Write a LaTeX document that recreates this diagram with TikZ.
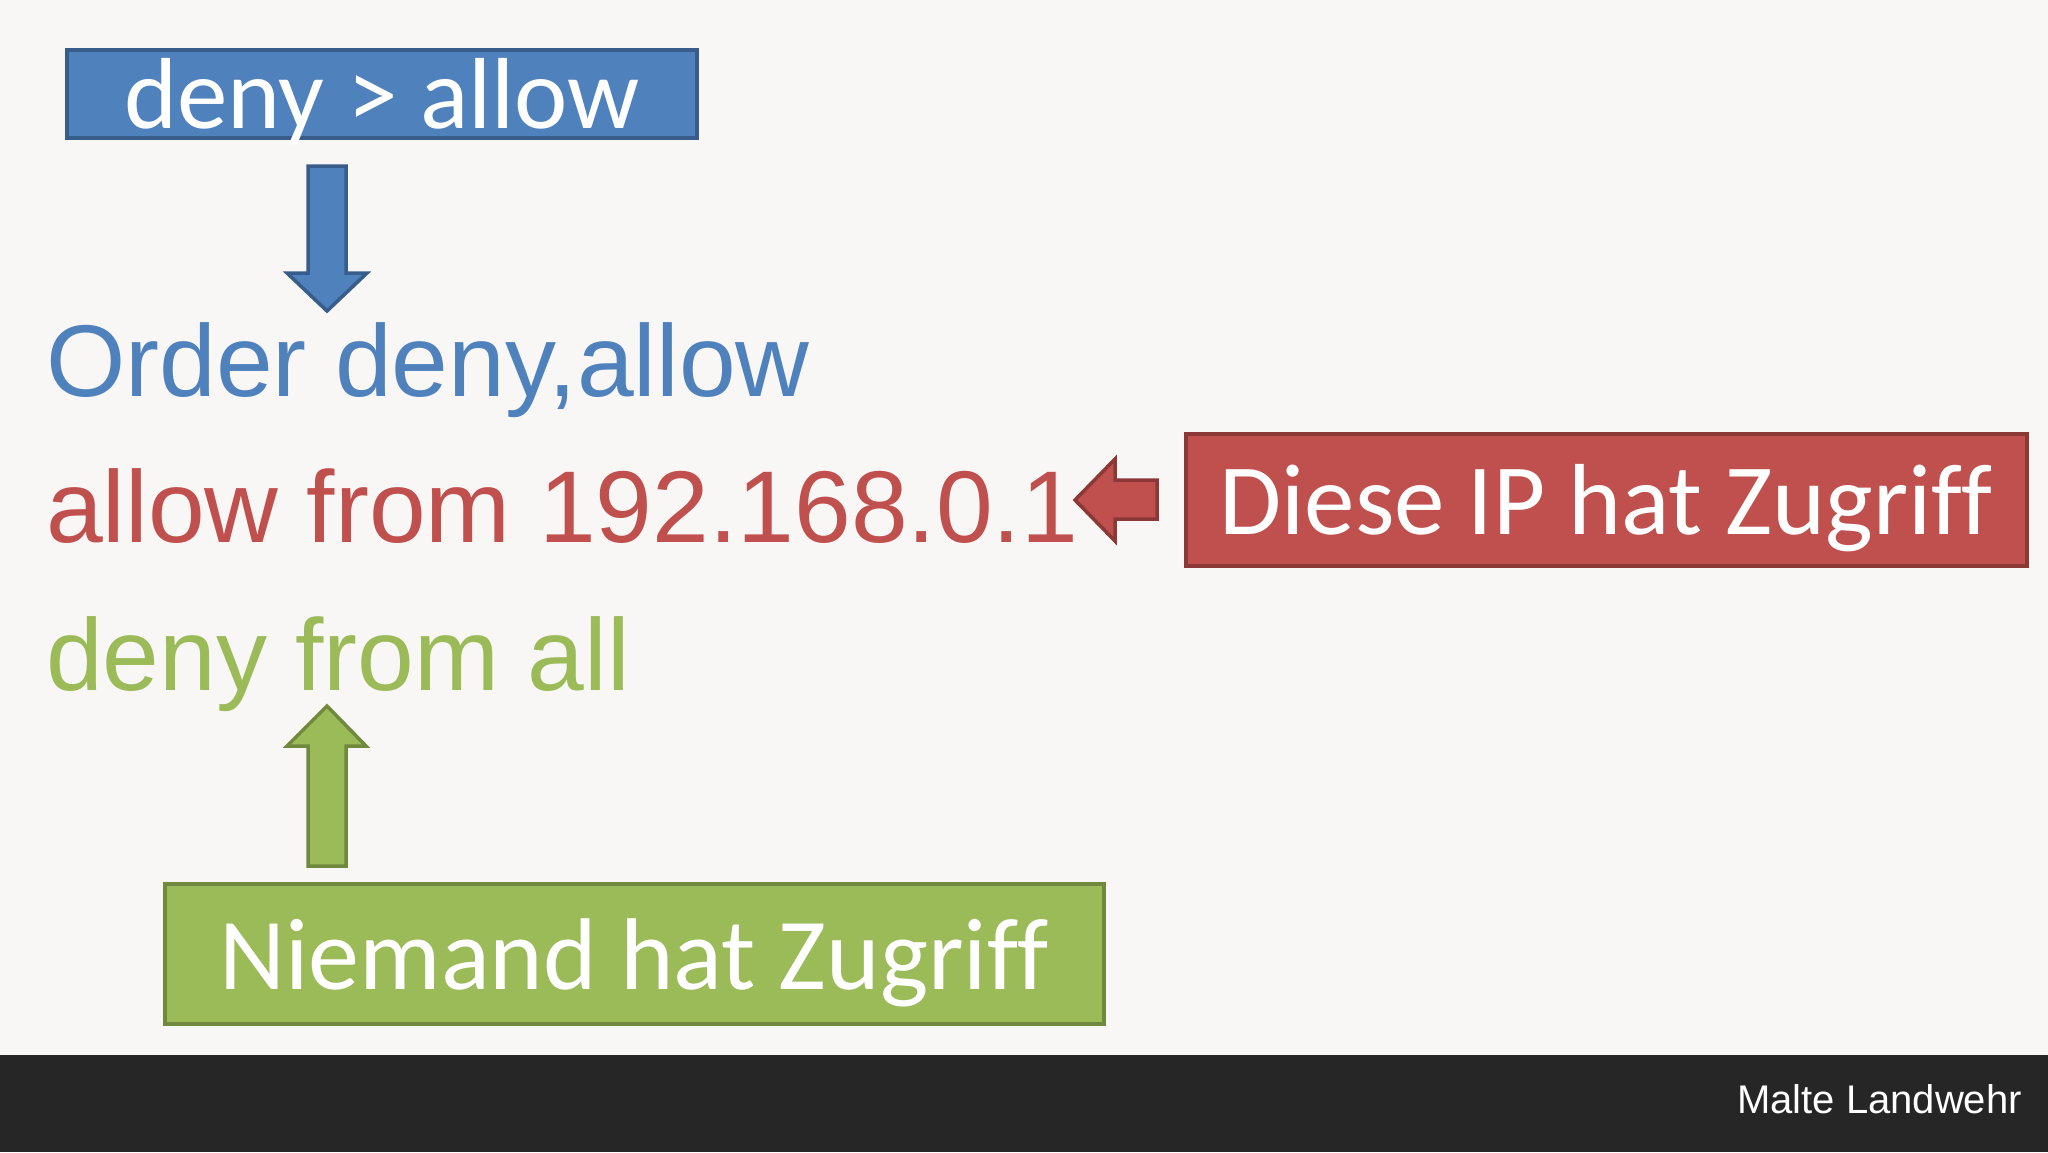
\documentclass[tikz,border=0pt]{standalone}
\usepackage{fontspec}
\setmainfont{Liberation Sans}
\newfontfamily\calibri[Ligatures=NoCommon]{Carlito}
\definecolor{bg}{HTML}{F9F7F6}
\definecolor{bar}{HTML}{272627}
\definecolor{blueF}{HTML}{4F81BD}
\definecolor{blueD}{HTML}{385D8A}
\definecolor{redF}{HTML}{C0504D}
\definecolor{redD}{HTML}{8C3836}
\definecolor{greenF}{HTML}{9BBB59}
\definecolor{greenD}{HTML}{71893F}
\tikzset{
  codeline/.style={anchor=base west, inner sep=0pt, font=\fontsize{102}{110}\selectfont},
  labelbox/.style={anchor=base, inner xsep=0pt, inner ysep=0pt, line width=4pt,
     text=white, font=\calibri\fontsize{101}{110}\selectfont},
  blockarrow/.style={line width=3.5pt, line join=miter},
}
\begin{document}
\begin{tikzpicture}[x=1pt,y=-1pt]
\fill[bg] (0,0) rectangle (2048,1152);
\useasboundingbox (0,0) rectangle (2048,1152);
\fill[bar] (0,1055) rectangle (2048,1152);
\node[anchor=base east, inner sep=0pt, text=white, font=\fontsize{40}{44}\selectfont] (author) at (2022,1113) {Malte Landwehr};

% boxes
\node[labelbox, draw=blueD, fill=blueF, minimum width=630pt, text height=78pt, text depth=10pt] (top) at (382,128) {deny > allow};
\node[labelbox, draw=redD, fill=redF, minimum width=841pt, text height=100pt, text depth=32pt] (ipbox) at (1606,534) {Diese IP hat Zugriff};
\node[labelbox, draw=greenD, fill=greenF, minimum width=939pt, text height=105pt, text depth=35pt, font=\calibri\fontsize{102}{110}\selectfont] (nobox) at (634,989) {Niemand hat Zugriff};

% code lines
\node[codeline, text=blueF] (order) at (46,396) {Order deny,allow};
\node[codeline, text=redF] (allow) at (46,542) {allow from 192.168.0.1};
\node[codeline, text=greenF] (deny) at (46,690) {deny from all};

% block arrows
\filldraw[blockarrow, fill=blueF, draw=blueD]
  (308,166) -- (346,166) -- (346,273) -- (367,273) -- (327,311) -- (287,273) -- (308,273) -- cycle;
\filldraw[blockarrow, fill=redF, draw=redD]
  (1157,480) -- (1157,519) -- (1115,519) -- (1115,541) -- (1075,500) -- (1115,459) -- (1115,480) -- cycle;
\filldraw[blockarrow, fill=greenF, draw=greenD]
  (308,866) -- (346,866) -- (346,746) -- (366,746) -- (327,706) -- (287,746) -- (308,746) -- cycle;
\end{tikzpicture}
\end{document}
